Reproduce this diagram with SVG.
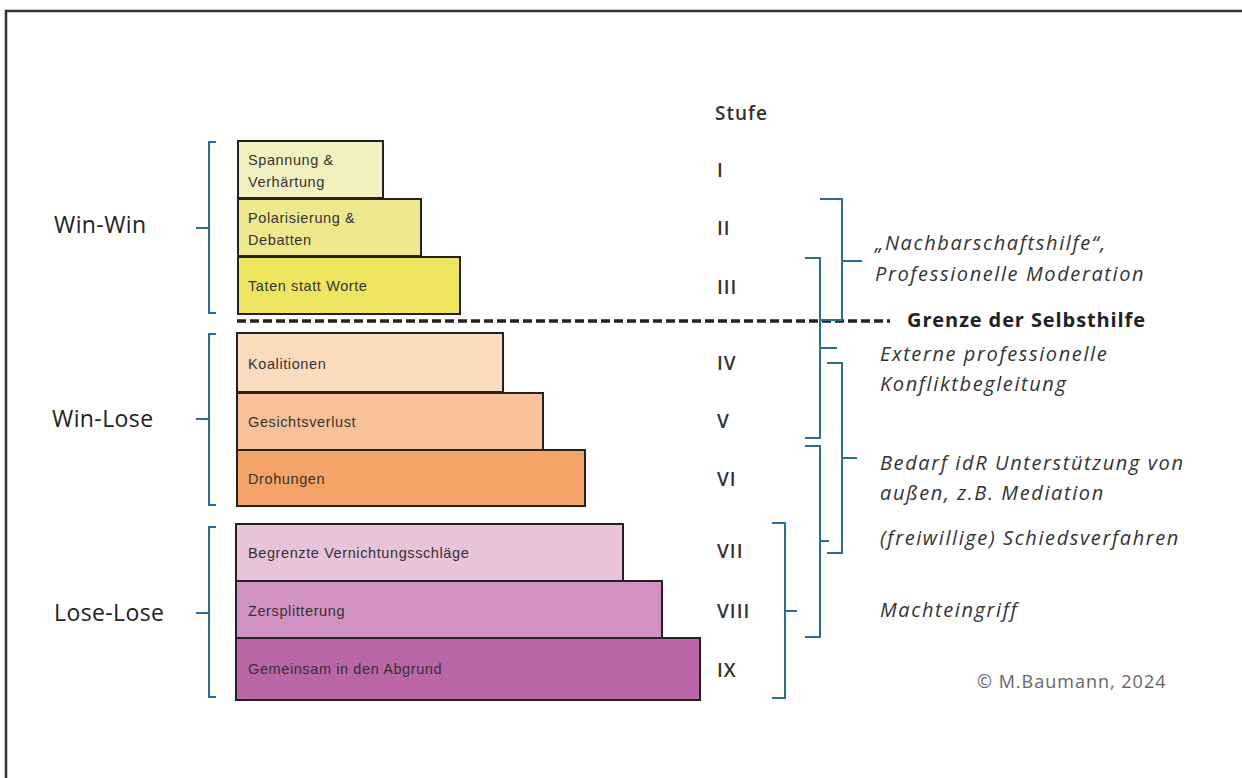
<svg xmlns="http://www.w3.org/2000/svg" width="1242" height="778" viewBox="0 0 1242 778">
<style>
.box{stroke:#222;stroke-width:2}
.bl{font-family:"Liberation Sans",Arial,sans-serif;font-size:14.5px;letter-spacing:0.6px;fill:#333}
.grp{font-family:"Open Sans","Liberation Sans",sans-serif;font-size:23px;letter-spacing:0.4px;fill:#222}
.num{font-family:"Open Sans","Liberation Sans",sans-serif;font-size:19px;font-weight:600;letter-spacing:1px;fill:#333}
.rt{font-family:"Open Sans","Liberation Sans",sans-serif;font-size:20px;font-style:italic;letter-spacing:1.6px;fill:#333}
.br{fill:none;stroke:#2b6c93;stroke-width:2}
</style>
<rect x="0" y="0" width="1242" height="778" fill="#fff"/>
<rect x="6" y="11" width="1250" height="780" fill="none" stroke="#333" stroke-width="2.5"/>

<g id="box1"><rect class="box" x="238" y="141" width="145" height="57" fill="#f3f0c0"/><text class="bl" x="248" y="165">Spannung &amp;</text><text class="bl" x="248" y="187">Verhärtung</text></g>
<g id="box2"><rect class="box" x="238" y="199" width="183" height="57" fill="#efe98e"/><text class="bl" x="248" y="223">Polarisierung &amp;</text><text class="bl" x="248" y="245">Debatten</text></g>
<g id="box3"><rect class="box" x="238" y="257" width="222" height="57" fill="#ede65e"/><text class="bl" x="248" y="291">Taten statt Worte</text></g>
<g id="box4"><rect class="box" x="237" y="333" width="266" height="59" fill="#fbdcbf"/><text class="bl" x="248" y="369">Koalitionen</text></g>
<g id="box5"><rect class="box" x="237" y="393" width="306" height="57" fill="#f8c197"/><text class="bl" x="248" y="427">Gesichtsverlust</text></g>
<g id="box6"><rect class="box" x="237" y="450" width="348" height="56" fill="#f4a466"/><text class="bl" x="248" y="484">Drohungen</text></g>
<g id="box7"><rect class="box" x="236" y="524" width="387" height="57" fill="#e9c2dc"/><text class="bl" x="248" y="558">Begrenzte Vernichtungsschläge</text></g>
<g id="box8"><rect class="box" x="236" y="581" width="426" height="57" fill="#d291c3"/><text class="bl" x="248" y="616">Zersplitterung</text></g>
<g id="box9"><rect class="box" x="236" y="638" width="464" height="62" fill="#ba65a6"/><text class="bl" x="248" y="674">Gemeinsam in den Abgrund</text></g>

<g id="boundary">
<line x1="237" y1="321" x2="890" y2="321" stroke="#222" stroke-width="3.5" stroke-dasharray="9 4"/>
<text x="907" y="327" font-family="'Open Sans','Liberation Sans',sans-serif" font-size="20" font-weight="700" letter-spacing="0.9" fill="#222">Grenze der Selbsthilfe</text>
</g>

<g id="groups">
<text class="grp" x="54" y="233">Win-Win</text>
<text class="grp" x="52" y="427">Win-Lose</text>
<text class="grp" x="54" y="621">Lose-Lose</text>
</g>

<g id="stufen">
<text class="num" x="715" y="120" font-weight="500" letter-spacing="2">Stufe</text>
<text class="num" x="717" y="177">I</text>
<text class="num" x="717" y="235">II</text>
<text class="num" x="717" y="294">III</text>
<text class="num" x="717" y="370">IV</text>
<text class="num" x="717" y="428">V</text>
<text class="num" x="717" y="486">VI</text>
<text class="num" x="717" y="558">VII</text>
<text class="num" x="717" y="618">VIII</text>
<text class="num" x="717" y="677">IX</text>
</g>

<g id="connectors">
<path class="br" d="M216 142 H209 V313 H216 M209 228 H196"/>
<path class="br" d="M216 334 H209 V505 H216 M209 419 H196"/>
<path class="br" d="M216 527 H209 V697 H216 M209 613 H196"/>
<path class="br" d="M820 199 H842 V320 H820 M842 261 H862"/>
<path class="br" d="M805 258 H820 V438 H805 M820 348 H837"/>
<path class="br" d="M827 363 H842 V553 H827 M842 458 H857"/>
<path class="br" d="M805 446 H820 V637 H805 M820 541 H829"/>
<path class="br" d="M772 523 H785 V698 H772 M785 611 H797"/>
</g>

<g id="notes">
<text class="rt" x="875" y="250">„Nachbarschaftshilfe“,</text>
<text class="rt" x="875" y="281">Professionelle Moderation</text>
<text class="rt" x="880" y="361">Externe professionelle</text>
<text class="rt" x="880" y="391">Konfliktbegleitung</text>
<text class="rt" x="880" y="470">Bedarf idR Unterstützung von</text>
<text class="rt" x="880" y="500">außen, z.B. Mediation</text>
<text class="rt" x="880" y="545">(freiwillige) Schiedsverfahren</text>
<text class="rt" x="880" y="617">Machteingriff</text>
<text x="977" y="688" font-family="'Open Sans','Liberation Sans',sans-serif" font-size="18" letter-spacing="1" fill="#666">© M.Baumann, 2024</text>
</g>
</svg>
